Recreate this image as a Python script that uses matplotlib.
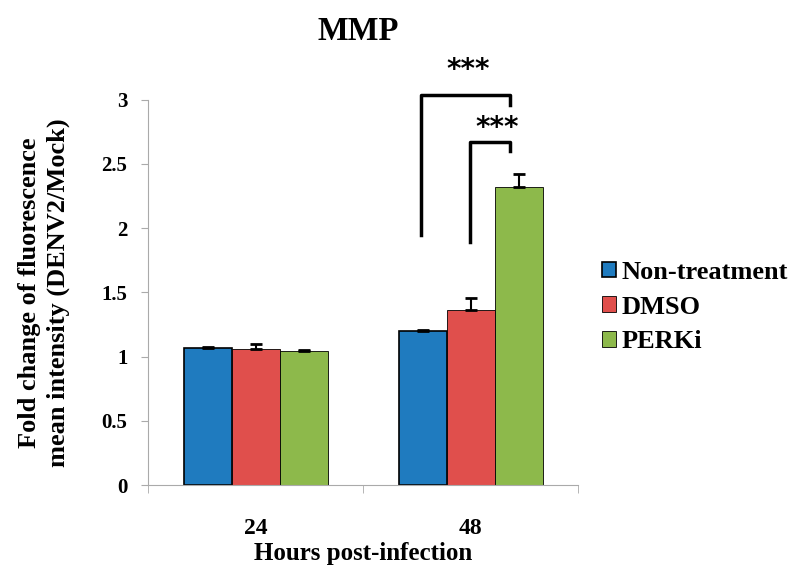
import matplotlib.pyplot as plt
import numpy as np

# 数据
hours = ['24', '48']
groups = ['Non-treatment', 'DMSO', 'PERKi']
colors = ['#1f7bbf', '#e04f4c', '#8db94b']
means = {
    'Non-treatment': [1.07, 1.20],
    'DMSO': [1.06, 1.36],
    'PERKi': [1.04, 2.32],
}
errs = {
    'Non-treatment': [0.005, 0.005],
    'DMSO': [0.04, 0.10],
    'PERKi': [0.01, 0.10],
}

plt.rcParams['font.family'] = ['Liberation Serif', 'DejaVu Serif']
plt.rcParams['font.weight'] = 'bold'

fig = plt.figure(figsize=(7.92, 5.7), dpi=100)
ax = fig.add_axes([0.187, 0.149, 0.543, 0.676])

x = np.arange(len(hours))
w = 0.223
for i, g in enumerate(groups):
    ax.bar(x + (i - 1) * w, means[g], w, color=colors[i], edgecolor='black',
           linewidth=1.2 if i == 0 else 0.6, label=g, zorder=2)
    # 只画上半部分误差线
    ax.errorbar(x + (i - 1) * w, means[g], yerr=[[0, 0], errs[g]], fmt='none',
                ecolor='black', elinewidth=1.5, capsize=4, capthick=2, zorder=3)

ax.set_xlim(-0.5, 1.5)
ax.set_ylim(0, 3)
ax.set_yticks([0, 0.5, 1, 1.5, 2, 2.5, 3])
ax.set_yticklabels(['0', '0.5', '1', '1.5', '2', '2.5', '3'], fontsize=15)
ax.set_xticks(x)
ax.set_xticklabels(hours, fontsize=17, fontweight='bold')
ax.set_xticks([-0.5, 0.5, 1.5], minor=True)
ax.tick_params(axis='x', which='major', length=0, pad=24)
ax.tick_params(axis='x', which='minor', length=6, color='#aaaaaa')
ax.tick_params(axis='y', length=5, color='#aaaaaa', direction='out', pad=10)
for s in ['top', 'right']:
    ax.spines[s].set_visible(False)
for s in ['left', 'bottom']:
    ax.spines[s].set_color('#aaaaaa')

ax.set_xlabel('Hours post-infection', fontsize=18, fontweight='bold', labelpad=2)
ax.set_ylabel('Fold change of fluorescence\nmean intensity (DENV2/Mock)', fontsize=19,
              fontweight='bold', linespacing=1.35)
ax.yaxis.set_label_coords(-0.181, 0.5)
fig.text(0.452, 0.945, 'MMP', ha='center', va='center', fontsize=23.5, fontweight='bold')

# 显著性括号
def bracket(x1, x2, y1, y_top, y2, tx, ty):
    ax.plot([x1, x1, x2, x2], [y1, y_top, y_top, y2], color='black', lw=2.5,
            clip_on=False, zorder=4)
    ax.text(tx, ty, '***', ha='center', va='center', fontsize=20,
            family='DejaVu Sans', fontweight='bold', clip_on=False)

bracket(0.77, 1.184, 1.95, 3.04, 2.96, 0.988, 3.23)
bracket(0.998, 1.184, 1.89, 2.67, 2.60, 1.123, 2.78)

ax.legend(loc='center left', bbox_to_anchor=(1.056, 0.462), frameon=False,
          prop={'size': 19, 'weight': 'bold'}, handlelength=0.53, handleheight=0.53,
          handletextpad=0.2, labelspacing=0.45, borderaxespad=0, borderpad=0)

fig.savefig('out.png', dpi=100)
